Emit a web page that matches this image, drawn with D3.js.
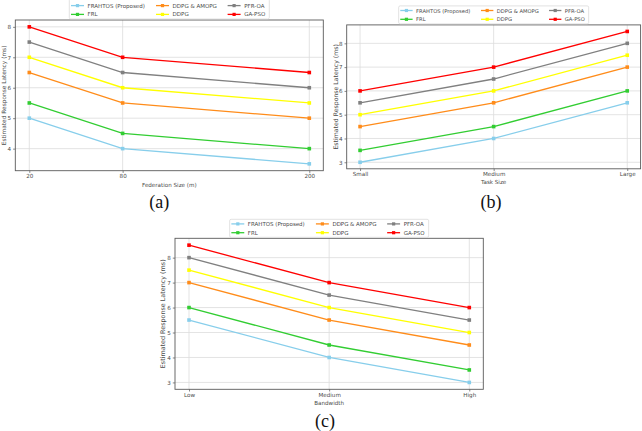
<!DOCTYPE html>
<html>
<head>
<meta charset="utf-8">
<script src="https://cdn.jsdelivr.net/npm/d3@7"></script>
<style>
html,body{margin:0;padding:0;background:#fff;}
svg{display:block;}
</style>
</head>
<body>
<svg id="chart" width="642" height="431"></svg>
<script>
// ---- data ----
const seriesNames = ["FRAHTOS (Proposed)", "FRL", "DDPG & AMOPG", "DDPG", "PFR-OA", "GA-PSO"];
const seriesColors = ["#87CEEB", "#32CD32", "#FF8C1A", "#FFFF00", "#808080", "#FF0000"];

// (a) Federation size
const federationSizes = [20, 80, 200];
const federationValues = [
  [5.0, 4.0, 3.5],
  [5.5, 4.5, 4.0],
  [6.5, 5.5, 5.0],
  [7.0, 6.0, 5.5],
  [7.5, 6.5, 6.0],
  [8.0, 7.0, 6.5]
];
const federationYTicks = [4, 5, 6, 7, 8];

// (b) Task size
const taskSizes = ["Small", "Medium", "Large"];
const taskValues = [
  [3.0, 4.0, 5.5],
  [3.5, 4.5, 6.0],
  [4.5, 5.5, 7.0],
  [5.0, 6.0, 7.5],
  [5.5, 6.5, 8.0],
  [6.0, 7.0, 8.5]
];
const taskYTicks = [3, 4, 5, 6, 7, 8];

// (c) Bandwidth
const bandwidths = ["Low", "Medium", "High"];
const bandwidthValues = [
  [5.5, 4.0, 3.0],
  [6.0, 4.5, 3.5],
  [7.0, 5.5, 4.5],
  [7.5, 6.0, 5.0],
  [8.0, 6.5, 5.5],
  [8.5, 7.0, 6.0]
];
const bandwidthYTicks = [3, 4, 5, 6, 7, 8];

const yLabel = "Estimated Response Latency (ms)";

const svg = d3.select("#chart");
const FONT = "DejaVu Sans, sans-serif";
const TXT = "#4a4a4a";

function drawPanel(cfg) {
  const g = svg.append("g");
  const {left, right, top, bottom} = cfg.box;
  let x;
  if (cfg.numeric) {
    const ext = d3.extent(cfg.xs);
    const pad = (ext[1] - ext[0]) * 0.05;
    x = d3.scaleLinear().domain([ext[0] - pad, ext[1] + pad]).range([left, right]);
  } else {
    x = d3.scaleLinear().domain([-0.1, cfg.xs.length - 1 + 0.1]).range([left, right]);
  }
  const xPos = (d, i) => cfg.numeric ? x(d) : x(i);
  const all = cfg.values.flat();
  const ymin = d3.min(all), ymax = d3.max(all);
  const ypad = (ymax - ymin) * 0.05;
  const y = d3.scaleLinear().domain([ymin - ypad, ymax + ypad]).range([bottom, top]);

  // grid
  const gridG = g.append("g");
  cfg.xs.forEach((d, i) => {
    gridG.append("line").attr("x1", xPos(d, i)).attr("x2", xPos(d, i))
      .attr("y1", top).attr("y2", bottom)
      .attr("stroke", "#dcdcdc").attr("stroke-width", 0.8);
  });
  cfg.yTicks.forEach(t => {
    gridG.append("line").attr("x1", left).attr("x2", right)
      .attr("y1", y(t)).attr("y2", y(t))
      .attr("stroke", "#dcdcdc").attr("stroke-width", 0.8);
  });

  // axes via d3 axis
  const xAxis = d3.axisBottom(x)
    .tickValues(cfg.numeric ? cfg.xs : cfg.xs.map((d, i) => i))
    .tickFormat((d, i) => cfg.numeric ? d : cfg.xs[d])
    .tickSize(2.2).tickPadding(1.5);
  const xa = g.append("g").attr("transform", `translate(0,${bottom})`).call(xAxis);
  xa.select(".domain").remove();
  xa.selectAll(".tick line").attr("stroke", "#555").attr("stroke-width", 0.7);
  xa.selectAll(".tick text").attr("fill", TXT).attr("font-size", 5.6).attr("font-family", FONT);

  const yAxis = d3.axisLeft(y).tickValues(cfg.yTicks).tickFormat(d3.format("d"))
    .tickSize(2.2).tickPadding(2);
  const ya = g.append("g").attr("transform", `translate(${left},0)`).call(yAxis);
  ya.select(".domain").remove();
  ya.selectAll(".tick line").attr("stroke", "#555").attr("stroke-width", 0.7);
  ya.selectAll(".tick text").attr("fill", TXT).attr("font-size", 5.6).attr("font-family", FONT);

  // spines
  g.append("rect").attr("x", left).attr("y", top)
    .attr("width", right - left).attr("height", bottom - top)
    .attr("fill", "none").attr("stroke", "#5a5a5a").attr("stroke-width", 0.9);

  // lines & markers
  const line = d3.line().x((d, i) => xPos(cfg.xs[i], i)).y(d => y(d));
  cfg.values.forEach((vals, s) => {
    g.append("path").datum(vals).attr("d", line)
      .attr("fill", "none").attr("stroke", seriesColors[s]).attr("stroke-width", 1.3);
    g.selectAll(null).data(vals).enter().append("rect")
      .attr("x", (d, i) => xPos(cfg.xs[i], i) - 1.8)
      .attr("y", d => y(d) - 1.8)
      .attr("width", 3.6).attr("height", 3.6)
      .attr("fill", seriesColors[s]);
  });

  // axis labels
  g.append("text").attr("x", (left + right) / 2).attr("y", bottom + cfg.xLabelDy)
    .attr("text-anchor", "middle").attr("dominant-baseline", "central")
    .attr("font-size", 5.6).attr("font-family", FONT).attr("fill", TXT).text(cfg.xLabel);
  g.append("text")
    .attr("transform", `translate(${cfg.yLabelX},${(top + bottom) / 2}) rotate(-90)`)
    .attr("text-anchor", "middle").attr("dominant-baseline", "central")
    .attr("font-size", cfg.yLabelSize).attr("font-family", FONT).attr("fill", TXT).text(yLabel);

  // legend
  const lw = cfg.legendW, s = lw / 200;
  const lx = (left + right) / 2 - lw / 2;
  const lb = top - 1;
  const lt = cfg.legendTop !== undefined ? cfg.legendTop : lb - 18;
  g.append("rect").attr("x", lx).attr("y", lt).attr("width", lw).attr("height", lb - lt)
    .attr("rx", 1.5).attr("fill", "#fff").attr("stroke", "#d6d6d6").attr("stroke-width", 0.7);
  const colOff = [1.7, 86.7, 158.3];
  const rowY = [lb - 13.4, lb - 4.6];
  seriesNames.forEach((name, k) => {
    const c = Math.floor(k / 2), r = k % 2;
    const hx = lx + colOff[c] * s, hy = rowY[r];
    g.append("line").attr("x1", hx).attr("x2", hx + 13 * s).attr("y1", hy).attr("y2", hy)
      .attr("stroke", seriesColors[k]).attr("stroke-width", 1.3);
    g.append("rect").attr("x", hx + 6.5 * s - 1.6).attr("y", hy - 1.6)
      .attr("width", 3.2).attr("height", 3.2).attr("fill", seriesColors[k]);
    g.append("text").attr("x", hx + 16.6 * s).attr("y", hy)
      .attr("dominant-baseline", "central")
      .attr("font-size", 5.5 * s).attr("font-family", FONT).attr("fill", TXT).text(name);
  });

  // caption
  g.append("text").attr("x", cfg.caption.x).attr("y", cfg.caption.y)
    .attr("text-anchor", "middle")
    .attr("font-size", 18).attr("font-family", "Liberation Serif, Times New Roman, serif")
    .attr("fill", "#111").text(cfg.caption.text);
}

drawPanel({
  xs: federationSizes, numeric: true, values: federationValues, yTicks: federationYTicks,
  box: {left: 15.3, right: 323.3, top: 20, bottom: 170.7},
  xLabel: "Federation Size (m)", xLabelDy: 13.8, yLabelX: 3.5, yLabelSize: 5.85,
  legendW: 200, legendTop: -1,
  caption: {x: 159.3, y: 208, text: "(a)"}
});
drawPanel({
  xs: taskSizes, numeric: false, values: taskValues, yTicks: taskYTicks,
  box: {left: 346.7, right: 640.6, top: 24.9, bottom: 168.8},
  xLabel: "Task Size", xLabelDy: 13.2, yLabelX: 335, yLabelSize: 6.2,
  legendW: 190,
  caption: {x: 491, y: 208, text: "(b)"}
});
drawPanel({
  xs: bandwidths, numeric: false, values: bandwidthValues, yTicks: bandwidthYTicks,
  box: {left: 175, right: 483.3, top: 238.3, bottom: 389.3},
  xLabel: "Bandwidth", xLabelDy: 13.2, yLabelX: 162.7, yLabelSize: 6.4,
  legendW: 199,
  caption: {x: 325, y: 427, text: "(c)"}
});
</script>
</body>
</html>
